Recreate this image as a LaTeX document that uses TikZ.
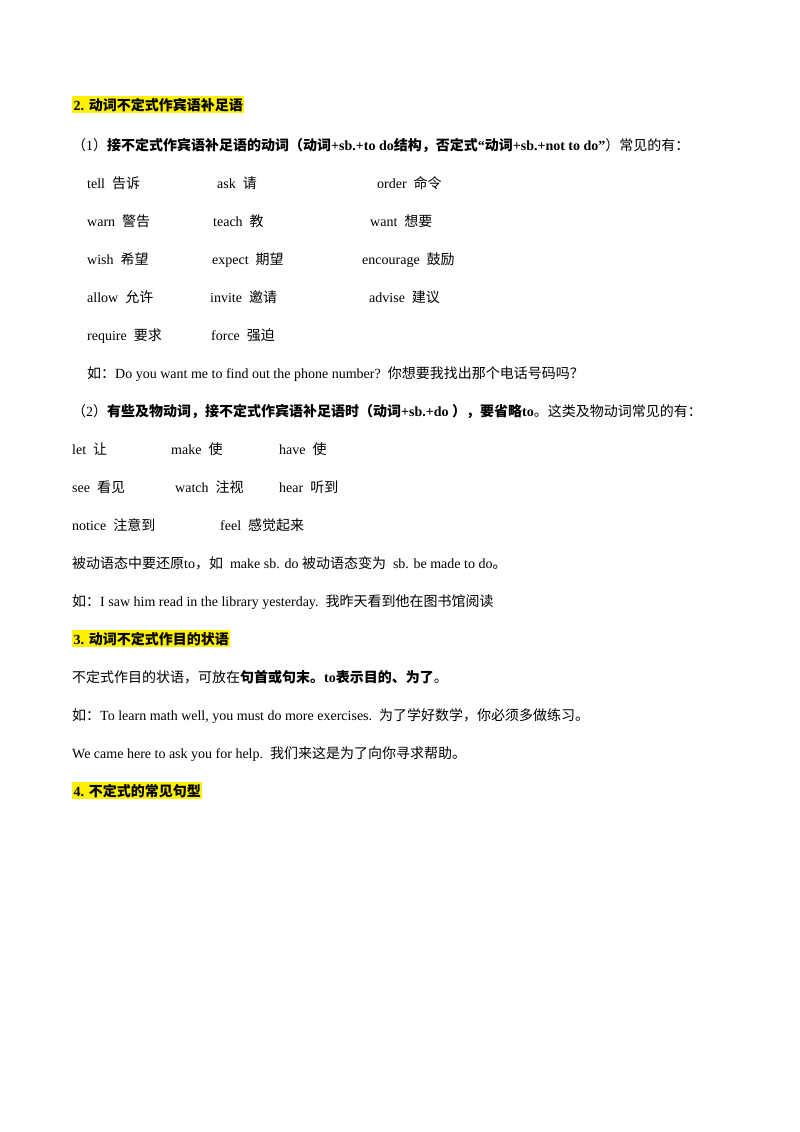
\documentclass[tikz,border=0pt]{standalone}
\usepackage{fontspec}
\setmainfont{Liberation Serif}
\newfontfamily\cjk{Noto Sans CJK SC}
\XeTeXinterchartokenstate=1
\newXeTeXintercharclass\cjkclass
\newcount\cc
\cc="3000 \loop\ifnum\cc<"3040 \XeTeXcharclass\cc=\cjkclass \advance\cc 1 \repeat
\cc="4E00 \loop\ifnum\cc<"A000 \XeTeXcharclass\cc=\cjkclass \advance\cc 1 \repeat
\cc="FF00 \loop\ifnum\cc<"FFF0 \XeTeXcharclass\cc=\cjkclass \advance\cc 1 \repeat
\XeTeXinterchartoks 0 \cjkclass = {\cjk}
\XeTeXinterchartoks 4095 \cjkclass = {\cjk}
\XeTeXinterchartoks \cjkclass 0 = {\rmfamily}
\XeTeXinterchartoks \cjkclass 4095 = {\rmfamily}
\tikzset{t/.style={anchor=base west,inner sep=0pt,font=\fontsize{14}{17}\selectfont},
hl/.style={t,fill=yellow,inner sep=1.5pt,font=\fontsize{14}{17}\selectfont\bfseries}}
\begin{document}
\begin{tikzpicture}[x=1pt,y=-1pt]
\useasboundingbox (0,0) rectangle (800,1132);
\node[hl] (h2) at (72,110) {2. 动词不定式作宾语补足语};
\node[t] (p1) at (72,150) {（1）\textbf{接不定式作宾语补足语的动词（动词+sb.+to do结构，否定式“动词+sb.+not to do”}）常见的有：};
\node[t] (a1) at (87,188) {tell\ \ 告诉};
\node[t] (a2) at (217,188) {ask\ \ 请};
\node[t] (a3) at (377,188) {order\ \ 命令};
\node[t] (b1) at (87,226) {warn\ \ 警告};
\node[t] (b2) at (213,226) {teach\ \ 教};
\node[t] (b3) at (370,226) {want\ \ 想要};
\node[t] (c1) at (87,264) {wish\ \ 希望};
\node[t] (c2) at (212,264) {expect\ \ 期望};
\node[t] (c3) at (362,264) {encourage\ \ 鼓励};
\node[t] (d1) at (87,302) {allow\ \ 允许};
\node[t] (d2) at (210,302) {invite\ \ 邀请};
\node[t] (d3) at (369,302) {advise\ \ 建议};
\node[t] (e1) at (87,340) {require\ \ 要求};
\node[t] (e2) at (211,340) {force\ \ 强迫};
\node[t] (ex1) at (87,378) {如：Do you want me to find out the phone number?\ \ 你想要我找出那个电话号码吗？};
\node[t] (p2) at (72,416) {（2）\textbf{有些及物动词，接不定式作宾语补足语时（动词+sb.+do ），要省略to}。这类及物动词常见的有：};
\node[t] (f1) at (72,454) {let\ \ 让};
\node[t] (f2) at (171,454) {make\ \ 使};
\node[t] (f3) at (279,454) {have\ \ 使};
\node[t] (g1) at (72,492) {see\ \ 看见};
\node[t] (g2) at (175,492) {watch\ \ 注视};
\node[t] (g3) at (279,492) {hear\ \ 听到};
\node[t] (k1) at (72,530) {notice\ \ 注意到};
\node[t] (k2) at (220,530) {feel\ \ 感觉起来};
\node[t] (pv) at (72,568) {被动语态中要还原to，如\ \ make sb. do 被动语态变为\ \ sb. be made to do。};
\node[t] (ex2) at (72,606) {如：I saw him read in the library yesterday.\ \ 我昨天看到他在图书馆阅读};
\node[hl] (h3) at (72,644) {3. 动词不定式作目的状语};
\node[t] (p3) at (72,682) {不定式作目的状语，可放在\textbf{句首或句末。to表示目的、为了}。};
\node[t] (ex3) at (72,720) {如：To learn math well, you must do more exercises.\ \ 为了学好数学，你必须多做练习。};
\node[t] (ex4) at (72,758) {We came here to ask you for help.\ \ 我们来这是为了向你寻求帮助。};
\node[hl] (h4) at (72,796) {4. 不定式的常见句型};
\end{tikzpicture}
\end{document}
